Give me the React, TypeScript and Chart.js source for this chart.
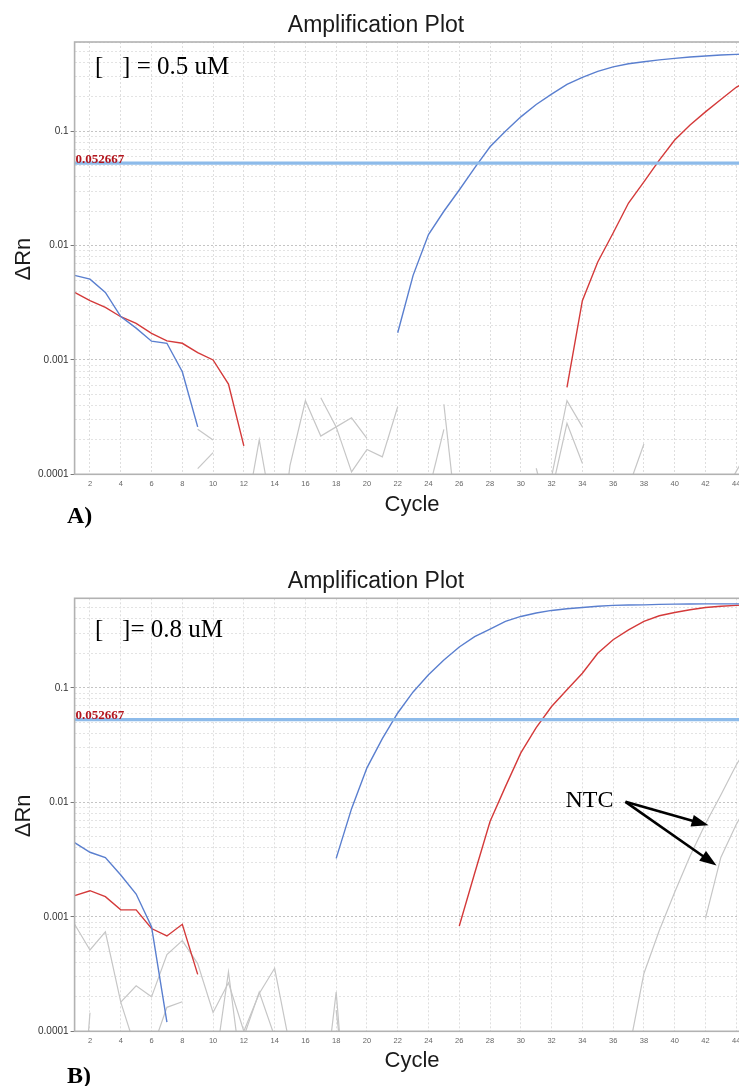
import React, { useEffect, useRef } from "react";
import { Chart, registerables } from "chart.js";

Chart.register(...registerables);

// ---------- data ----------
const CYCLES = [
  1, 2, 3, 4, 5, 6, 7, 8, 9, 10, 11, 12, 13, 14, 15, 16, 17, 18, 19, 20, 21, 22, 23,
  24, 25, 26, 27, 28, 29, 30, 31, 32, 33, 34, 35, 36, 37, 38, 39, 40, 41, 42, 43, 44, 45,
];
const X_TICKS = [2, 4, 6, 8, 10, 12, 14, 16, 18, 20, 22, 24, 26, 28, 30, 32, 34, 36, 38, 40, 42, 44];
const Y_MAJOR = [0.0001, 0.001, 0.01, 0.1];
const Y_TICK_LABELS = ["0.0001", "0.001", "0.01", "0.1"];
const Y_MINOR_STEPS = [1, 2, 3, 4, 5, 6, 7, 8, 9];
const THRESHOLD = 0.052667;
const THRESHOLD_LABEL = "0.052667";

const A_BLUE = [
  0.0055, 0.0051, 0.0039, 0.0024, 0.0019, 0.00146, 0.0014, 0.00079, 0.00026,
  null, null, null, null, null, null, null, null, null, null, null, null,
  0.00173, 0.0055, 0.0125, 0.02, 0.0307, 0.048, 0.0733, 0.1, 0.134, 0.172, 0.212, 0.258,
  0.297, 0.335, 0.367, 0.39, 0.406, 0.422, 0.435, 0.447, 0.456, 0.465, 0.472, 0.478,
];
const A_RED = [
  0.0039, 0.0033, 0.00289, 0.00239, 0.00209, 0.00171, 0.00147, 0.0014, 0.00116, 0.001, 0.000615, 0.000177,
  null, null, null, null, null, null, null, null, null, null,
  null, null, null, null, null, null, null, null, null, null,
  0.000575, 0.0033, 0.0072, 0.0129, 0.0236, 0.0362, 0.0561, 0.084, 0.1135, 0.148, 0.19, 0.243, 0.29,
];
const A_NOISE = [
  [[9, 0.000248], [10, 0.0002]],
  [[9, 0.000112], [10, 0.000155]],
  [[12, 0.000035], [13, 0.0002], [14, 0.000035]],
  [[14, 0.00001], [15, 0.00012], [16, 0.00044], [17, 0.000216], [18, 0.00026], [19, 0.000312], [20, 0.000206]],
  [[17, 0.000468], [18, 0.00026], [19, 0.000105], [20, 0.000165], [21, 0.000142], [22, 0.00039]],
  [[24, 0.00007], [25, 0.000247]],
  [[25, 0.00041], [26, 0.000025]],
  [[31, 0.000113], [32, 0.000034]],
  [[32, 0.000095], [33, 0.00044], [34, 0.00026]],
  [[32, 0.00007], [33, 0.000279], [34, 0.000125]],
  [[37, 0.000077], [38, 0.000184]],
  [[43, 0.00006], [44, 0.000106], [45, 0.00018]],
];

const B_BLUE = [
  0.00445, 0.00366, 0.00329, 0.00232, 0.00158, 0.00082, 0.00012,
  null, null, null, null, null, null, null, null, null, null,
  0.00324, 0.0088, 0.02, 0.036, 0.0603, 0.092, 0.13, 0.175, 0.227, 0.28, 0.326, 0.38, 0.42,
  0.45, 0.474, 0.49, 0.503, 0.515, 0.525, 0.528, 0.53, 0.535, 0.538, 0.54, 0.541, 0.541, 0.541, 0.541,
];
const B_RED = [
  0.00153, 0.00169, 0.0015, 0.00115, 0.00115, 0.00079, 0.00068, 0.00086, 0.000314,
  null, null, null, null, null, null, null, null, null, null, null, null, null, null, null, null,
  0.00083, 0.0024, 0.0068, 0.0137, 0.027, 0.045, 0.0687, 0.096, 0.134, 0.2, 0.263, 0.321, 0.38,
  0.426, 0.455, 0.48, 0.503, 0.515, 0.525, 0.53,
];
const B_NOISE = [
  [[1, 0.00086], [2, 0.000513], [3, 0.00074], [4, 0.00018], [5, 0.000068], [6, 0.000067], [7, 0.000162], [8, 0.000181]],
  [[4, 0.00018], [5, 0.00025], [6, 0.0002], [7, 0.000468], [8, 0.00062], [9, 0.00039], [10, 0.000146], [11, 0.000265],
    [12, 0.0001], [13, 0.000214], [14, 0.000355], [15, 0.000073]],
  [[1, 0.000003], [2, 0.000145]],
  [[10, 0.000038], [11, 0.00033], [12, 0.00003]],
  [[12, 0.00009], [13, 0.00022], [14, 0.00009]],
  [[17, 0.000016], [18, 0.00022], [19, 0.000005]],
  [[18, 0.000153], [19, 0.00001]],
  [[37, 0.000065], [38, 0.00032], [39, 0.00076], [40, 0.00164], [41, 0.0034], [42, 0.0065], [43, 0.0116], [44, 0.0212], [45, 0.035]],
  [[42, 0.00097], [43, 0.0033], [44, 0.0064], [45, 0.011]],
];
// NTC annotation anchors in data space: [cycle, ΔRn]
const NTC_TEXT_AT = [32.9, 0.0091];
const NTC_ARROW_TAIL = [36.8, 0.0101];
const NTC_ARROW_TIPS = [[42.2, 0.0063], [42.72, 0.0028]];

// ---------- styling ----------
const BLUE = "#5a7fcf";
const RED = "#d43a3a";
const GRAY = "#c6c6c6";
const THRESH_COLOR = "#8dbbea";
const SANS = "'Liberation Sans', Arial, sans-serif";
const SERIF = "'Liberation Serif', 'Times New Roman', serif";

const Y_GRID = Y_MAJOR.flatMap((d) => Y_MINOR_STEPS.map((m) => +(d * m).toPrecision(3))).filter((v) => v <= 0.605);
const isMajor = (v: number) => Y_MAJOR.some((m) => Math.abs(m - v) / m < 1e-6);

type PanelProps = {
  top: number;
  height: number;
  plotTop: number;
  plotBottom: number;
  blue: (number | null)[];
  red: (number | null)[];
  noise: number[][][];
  conc: string;
  concBaseline: number;
  letter: string;
  letterBaseline: number;
  titleBaseline: number;
  cycleBaseline: number;
  ntc: boolean;
};

function drawArrow(ctx: CanvasRenderingContext2D, x0: number, y0: number, x1: number, y1: number) {
  const ang = Math.atan2(y1 - y0, x1 - x0);
  const hl = 17;
  const hw = 6;
  const bx = x1 - hl * Math.cos(ang);
  const by = y1 - hl * Math.sin(ang);
  ctx.beginPath();
  ctx.moveTo(x0, y0);
  ctx.lineTo(bx + 2 * Math.cos(ang), by + 2 * Math.sin(ang));
  ctx.lineWidth = 2.6;
  ctx.strokeStyle = "#000";
  ctx.stroke();
  ctx.beginPath();
  ctx.moveTo(x1, y1);
  ctx.lineTo(bx + hw * Math.sin(ang), by - hw * Math.cos(ang));
  ctx.lineTo(bx - hw * Math.sin(ang), by + hw * Math.cos(ang));
  ctx.closePath();
  ctx.fillStyle = "#000";
  ctx.fill();
}

function Panel(p: PanelProps) {
  const ref = useRef<HTMLCanvasElement | null>(null);
  useEffect(() => {
    if (!ref.current) return;
    const toXY = (arr: (number | null)[]) => arr.map((v, i) => ({ x: CYCLES[i], y: v }));
    const line = (data: any[], color: string, w: number) => ({
      data,
      borderColor: color,
      borderWidth: w,
      pointRadius: 0,
      fill: false,
      tension: 0,
      spanGaps: false,
    });
    const decor = {
      id: "decor",
      afterDraw(chart: any) {
        const ctx: CanvasRenderingContext2D = chart.ctx;
        const a = chart.chartArea;
        const xs = chart.scales.x;
        const ys = chart.scales.y;
        ctx.save();
        // plot frame
        ctx.strokeStyle = "#b2b2b2";
        ctx.lineWidth = 1.6;
        ctx.strokeRect(a.left, a.top, a.right - a.left, a.bottom - a.top);
        // threshold label
        ctx.fillStyle = "#b3151d";
        ctx.font = `bold 13px ${SERIF}`;
        ctx.textAlign = "left";
        ctx.textBaseline = "alphabetic";
        ctx.fillText(THRESHOLD_LABEL, a.left + 1, ys.getPixelForValue(THRESHOLD) - 0.5);
        // title
        ctx.fillStyle = "#1a1a1a";
        ctx.font = `23px ${SANS}`;
        ctx.textAlign = "center";
        ctx.fillText("Amplification Plot", 376, p.titleBaseline);
        // x title
        ctx.font = `22px ${SANS}`;
        ctx.fillText("Cycle", 412, p.cycleBaseline);
        // y title
        ctx.save();
        ctx.translate(30, (a.top + a.bottom) / 2 + 1);
        ctx.rotate(-Math.PI / 2);
        ctx.fillText("ΔRn", 0, 0);
        ctx.restore();
        // concentration label
        ctx.textAlign = "left";
        ctx.fillStyle = "#000";
        ctx.font = `25px ${SERIF}`;
        ctx.fillText(p.conc, 95, p.concBaseline);
        // panel letter
        ctx.font = `bold 24px ${SERIF}`;
        ctx.fillText(p.letter, 67, p.letterBaseline);
        if (p.ntc) {
          ctx.font = `24px ${SERIF}`;
          ctx.fillText("NTC", xs.getPixelForValue(NTC_TEXT_AT[0]), ys.getPixelForValue(NTC_TEXT_AT[1]));
          const tx = xs.getPixelForValue(NTC_ARROW_TAIL[0]);
          const ty = ys.getPixelForValue(NTC_ARROW_TAIL[1]);
          NTC_ARROW_TIPS.forEach(([c, v]) => {
            drawArrow(ctx, tx, ty, xs.getPixelForValue(c), ys.getPixelForValue(v));
          });
        }
        ctx.restore();
      },
    };
    const chart = new Chart(ref.current, {
      type: "line",
      data: {
        datasets: [
          line([{ x: 1, y: THRESHOLD }, { x: 46, y: THRESHOLD }], THRESH_COLOR, 3.2),
          line(toXY(p.blue), BLUE, 1.4),
          line(toXY(p.red), RED, 1.4),
          ...p.noise.map((seg) => line(seg.map(([x, y]) => ({ x, y })), GRAY, 1.2)),
        ] as any,
      },
      options: {
        responsive: false,
        animation: false,
        events: [],
        layout: { padding: { top: p.plotTop, left: 0, right: 1, bottom: 0 } },
        plugins: { legend: { display: false }, tooltip: { enabled: false }, title: { display: false } },
        scales: {
          x: {
            type: "linear",
            min: 1,
            max: 46,
            afterBuildTicks: (ax: any) => {
              ax.ticks = X_TICKS.map((v) => ({ value: v }));
            },
            afterFit: (s: any) => {
              s.height = p.height - p.plotBottom;
            },
            grid: { color: "#dedede", lineWidth: 1, drawTicks: false },
            border: { display: false, dash: [2, 2] },
            ticks: {
              autoSkip: false,
              maxRotation: 0,
              padding: 5,
              color: "#666",
              font: { size: 7.5, family: SANS },
              callback: (v: any) => String(v),
            },
          },
          y: {
            type: "logarithmic",
            min: 0.0001,
            max: 0.605,
            afterBuildTicks: (ax: any) => {
              ax.ticks = Y_GRID.map((v) => ({ value: v }));
            },
            afterFit: (s: any) => {
              s.width = 74.6;
            },
            grid: {
              color: (c: any) => (c.tick && isMajor(c.tick.value) ? "#c4c4c4" : "#e3e3e3"),
              tickColor: (c: any) => (c.tick && isMajor(c.tick.value) ? "#777" : "rgba(0,0,0,0)"),
              tickLength: 4,
              lineWidth: 1,
            },
            border: { display: false, dash: [2, 2] },
            ticks: {
              padding: 2,
              color: "#333",
              font: { size: 10, family: SANS },
              autoSkip: false,
              callback: (v: any) => {
                const i = Y_MAJOR.findIndex((m) => Math.abs(m - Number(v)) / m < 1e-6);
                return i >= 0 ? Y_TICK_LABELS[i] : "";
              },
            },
          },
        },
      } as any,
      plugins: [decor],
    });
    return () => chart.destroy();
  }, []);
  return (
    <canvas
      ref={ref}
      width={768}
      height={p.height}
      style={{ position: "absolute", left: 0, top: p.top, width: 768, height: p.height }}
    />
  );
}

export default function App() {
  return (
    <div
      style={{
        position: "absolute",
        left: 0,
        top: 0,
        width: 739,
        height: 1086,
        overflow: "hidden",
        background: "#fff",
      }}
    >
      <Panel
        top={0}
        height={530}
        plotTop={42}
        plotBottom={474.3}
        blue={A_BLUE}
        red={A_RED}
        noise={A_NOISE}
        conc="[   ] = 0.5 uM"
        concBaseline={73.5}
        letter="A)"
        letterBaseline={523}
        titleBaseline={31.5}
        cycleBaseline={510.7}
        ntc={false}
      />
      <Panel
        top={556}
        height={530}
        plotTop={42.3}
        plotBottom={475.3}
        blue={B_BLUE}
        red={B_RED}
        noise={B_NOISE}
        conc="[   ]= 0.8 uM"
        concBaseline={80.5}
        letter="B)"
        letterBaseline={527}
        titleBaseline={32}
        cycleBaseline={511}
        ntc={true}
      />
    </div>
  );
}
